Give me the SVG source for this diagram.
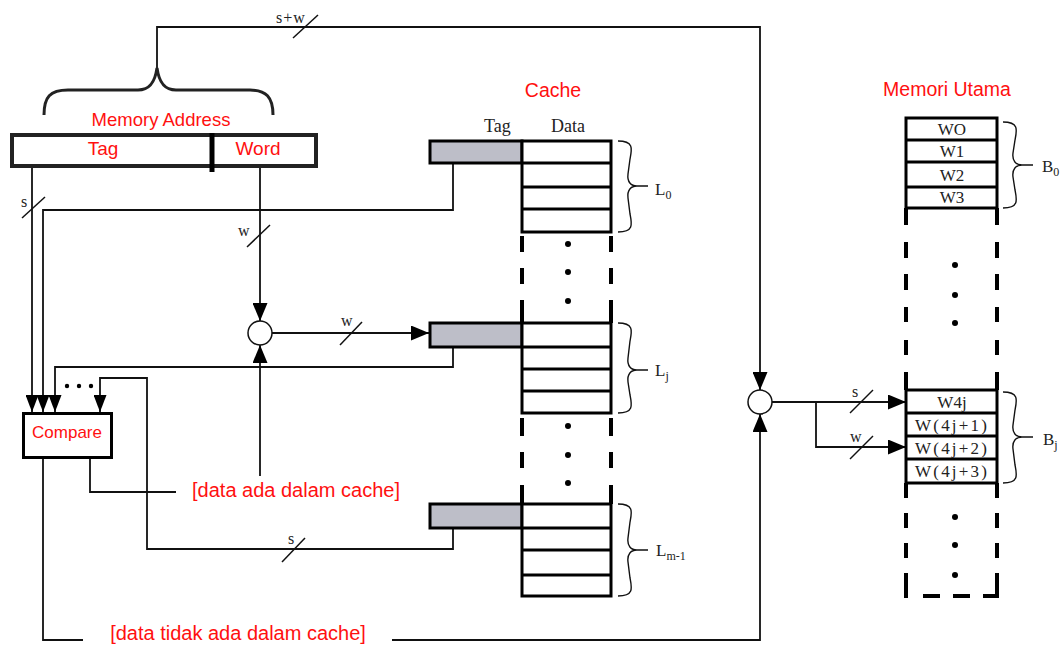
<svg xmlns="http://www.w3.org/2000/svg" width="1062" height="645" viewBox="0 0 1062 645">
<defs>
<marker id="a" markerUnits="userSpaceOnUse" viewBox="0 0 18 15" markerWidth="18" markerHeight="15" refX="18" refY="7.5" orient="auto"><path d="M0,0 L18,7.5 L0,15 z" fill="#000"/></marker>
<marker id="as" markerUnits="userSpaceOnUse" viewBox="0 0 17 13" markerWidth="17" markerHeight="13" refX="17" refY="6.5" orient="auto"><path d="M0,0 L17,6.5 L0,13 z" fill="#000"/></marker>
</defs>
<style>
.red{font-family:"Liberation Sans",Arial,sans-serif;fill:#ff1010;text-anchor:middle}
.ser{font-family:"Liberation Serif","Times New Roman",serif;fill:#222}
.ln{fill:none;stroke:#111;stroke-width:1.8}
.sl{stroke:#111;stroke-width:1.5}
.box{fill:#fff;stroke:#000;stroke-width:3}
.tag{fill:#bdbec8;stroke:#000;stroke-width:3}
.row{stroke:#000;stroke-width:3}
.dash{fill:none;stroke:#000;stroke-width:4}
.br{fill:none;stroke:#111;stroke-width:1.4}
.dot{fill:#000}
</style>
<rect width="1062" height="645" fill="#fff"/>

<g id="connectors">
<path class="ln" d="M157,68 V27 H760 V390" marker-end="url(#a)"/>
<path class="ln" d="M32,168 V412" marker-end="url(#as)"/>
<path class="ln" d="M453,163 V210 H43 V412" marker-end="url(#as)"/>
<path class="ln" d="M453,347 V367 H55 V412" marker-end="url(#as)"/>
<path class="ln" d="M453,528 V549 H147 V378 H100 V412" marker-end="url(#as)"/>
<path class="ln" d="M260,168 V321" marker-end="url(#a)"/>
<path class="ln" d="M260,476 V345" marker-end="url(#a)"/>
<path class="ln" d="M272,333 H429" marker-end="url(#a)"/>
<path class="ln" d="M90,459 V492 H176"/>
<path class="ln" d="M43,459 V640 H83"/>
<path class="ln" d="M392,640 H760 V414" marker-end="url(#a)"/>
<path class="ln" d="M772,402 H906" marker-end="url(#a)"/>
<path class="ln" d="M816,402 V447 H906" marker-end="url(#a)"/>
<line class="sl" x1="293" y1="38" x2="318" y2="15"/>
<line class="sl" x1="22" y1="218" x2="45" y2="197"/>
<line class="sl" x1="247" y1="247" x2="270" y2="225"/>
<line class="sl" x1="340" y1="345" x2="362" y2="322"/>
<line class="sl" x1="282" y1="562" x2="305" y2="538"/>
<line class="sl" x1="850" y1="413" x2="873" y2="390"/>
<line class="sl" x1="850" y1="459" x2="873" y2="436"/>
<text class="ser" x="276" y="23" font-size="16" letter-spacing="1">s+w</text>
<text class="ser" x="21" y="207" font-size="16">s</text>
<text class="ser" x="238" y="236" font-size="16">w</text>
<text class="ser" x="341" y="326" font-size="16">w</text>
<text class="ser" x="288" y="544" font-size="16">s</text>
<text class="ser" x="852" y="397" font-size="16">s</text>
<text class="ser" x="850" y="442" font-size="16">w</text>
<circle class="dot" cx="67" cy="386" r="2.2"/>
<circle class="dot" cx="79" cy="386" r="2.2"/>
<circle class="dot" cx="91" cy="386" r="2.2"/>
<text class="red" x="238" y="640" font-size="20">[data tidak ada dalam cache]</text>
<text class="red" x="296" y="497" font-size="20">[data ada dalam cache]</text>
</g>

<g id="memory-address">
<path d="M44,115 C44,97 50,90 68,90 L138,90 C150,90 155,82 157,68 C159,82 164,90 176,90 L250,90 C266,90 273,97 273,115" fill="none" stroke="#222" stroke-width="3"/>
<text class="red" x="161" y="126" font-size="18.5">Memory Address</text>
<rect x="12" y="135" width="304" height="31" fill="#fff" stroke="#222" stroke-width="4"/>
<line x1="212" y1="133" x2="212" y2="172" stroke="#000" stroke-width="5"/>
<text class="red" x="103" y="155" font-size="19">Tag</text>
<text class="red" x="258" y="155" font-size="19">Word</text>
</g>

<g id="compare">
<rect x="23.5" y="413.5" width="88" height="44" class="box"/>
<text class="red" x="67" y="438" font-size="17">Compare</text>
</g>

<g id="selector-1">
<circle cx="260" cy="333" r="12" fill="#fff" stroke="#111" stroke-width="1.5"/>
</g>
<g id="selector-2">
<circle cx="760" cy="402" r="12" fill="#fff" stroke="#111" stroke-width="1.5"/>
</g>

<g id="cache">
<text class="red" x="553" y="97" font-size="19.5">Cache</text>
<text class="ser" x="484" y="132" font-size="18">Tag</text>
<text class="ser" x="551" y="132" font-size="18">Data</text>
<rect class="tag" x="430" y="141" width="92" height="22"/>
<rect class="box" x="522" y="141" width="89" height="91"/>
<line class="row" x1="522" y1="163" x2="611" y2="163"/>
<line class="row" x1="522" y1="187" x2="611" y2="187"/>
<line class="row" x1="522" y1="209" x2="611" y2="209"/>
<path class="br" d="M618,141 C634,141 632,149 630,159 L628,174 C627,182 631,186 637,186 C631,186 627,190 628,198 L630,214 C632,224 634,232 618,232 M637,186 H648"/>
<text class="ser" x="655" y="195" font-size="17">L<tspan font-size="12" dy="4">0</tspan></text>
<rect class="tag" x="430" y="323" width="92" height="24"/>
<rect class="box" x="522" y="323" width="89" height="90"/>
<line class="row" x1="522" y1="347" x2="611" y2="347"/>
<line class="row" x1="522" y1="369" x2="611" y2="369"/>
<line class="row" x1="522" y1="391" x2="611" y2="391"/>
<path class="br" d="M618,323 C634,323 632,331 630,341 L628,358 C627,366 631,370 637,370 C631,370 627,374 628,382 L630,395 C632,405 634,413 618,413 M637,370 H648"/>
<text class="ser" x="655" y="376" font-size="17">L<tspan font-size="12" dy="4">j</tspan></text>
<rect class="tag" x="430" y="504" width="92" height="24"/>
<rect class="box" x="522" y="504" width="89" height="92"/>
<line class="row" x1="522" y1="528" x2="611" y2="528"/>
<line class="row" x1="522" y1="550" x2="611" y2="550"/>
<line class="row" x1="522" y1="575" x2="611" y2="575"/>
<path class="br" d="M618,504 C634,504 632,512 630,522 L628,538 C627,546 631,550 637,550 C631,550 627,554 628,562 L630,578 C632,588 634,596 618,596 M637,550 H648"/>
<text class="ser" x="656" y="556" font-size="17">L<tspan font-size="12" dy="4">m-1</tspan></text>
<path class="dash" d="M522,236 V252 M522,268 V284 M522,300 V323 M611,236 V252 M611,268 V284 M611,300 V323 M522,418 V436 M522,452 V468 M522,485 V504 M611,418 V436 M611,452 V468 M611,485 V504"/>
<circle class="dot" cx="568" cy="244" r="3"/>
<circle class="dot" cx="568" cy="272" r="3"/>
<circle class="dot" cx="568" cy="301" r="3"/>
<circle class="dot" cx="568" cy="426" r="3"/>
<circle class="dot" cx="568" cy="455" r="3"/>
<circle class="dot" cx="568" cy="483" r="3"/>
</g>

<g id="main-memory">
<text class="red" x="947" y="96" font-size="19.5">Memori Utama</text>
<rect class="box" x="906" y="118" width="91" height="90"/>
<line class="row" x1="906" y1="140" x2="997" y2="140"/>
<line class="row" x1="906" y1="162" x2="997" y2="162"/>
<line class="row" x1="906" y1="187" x2="997" y2="187"/>
<text class="ser" x="952" y="135" font-size="17" text-anchor="middle">WO</text>
<text class="ser" x="952" y="157" font-size="17" text-anchor="middle">W1</text>
<text class="ser" x="952" y="181" font-size="17" text-anchor="middle">W2</text>
<text class="ser" x="952" y="203" font-size="17" text-anchor="middle">W3</text>
<path class="br" d="M1003,122 C1019,122 1017,130 1015,140 L1013,153 C1012,161 1016,165 1022,165 C1016,165 1012,169 1013,177 L1015,190 C1017,200 1019,208 1003,208 M1022,165 H1033"/>
<text class="ser" x="1042" y="172" font-size="17">B<tspan font-size="12" dy="4">0</tspan></text>
<rect class="box" x="906" y="390" width="91" height="93"/>
<line class="row" x1="906" y1="413" x2="997" y2="413"/>
<line class="row" x1="906" y1="436" x2="997" y2="436"/>
<line class="row" x1="906" y1="459" x2="997" y2="459"/>
<text class="ser" x="952" y="408" font-size="17" text-anchor="middle">W4j</text>
<text class="ser" x="915" y="431" font-size="17" textLength="72" lengthAdjust="spacing">W(4j+1)</text>
<text class="ser" x="915" y="454" font-size="17" textLength="72" lengthAdjust="spacing">W(4j+2)</text>
<text class="ser" x="915" y="477" font-size="17" textLength="72" lengthAdjust="spacing">W(4j+3)</text>
<path class="br" d="M1003,392 C1019,392 1017,400 1015,410 L1013,425 C1012,433 1016,437 1022,437 C1016,437 1012,441 1013,449 L1015,465 C1017,475 1019,483 1003,483 M1022,437 H1033"/>
<text class="ser" x="1043" y="445" font-size="17">B<tspan font-size="12" dy="4">j</tspan></text>
<path class="dash" d="M906,208 V225 M906,242 V258 M906,274 V290 M906,307 V322 M906,340 V355 M906,372 V390 M997,208 V225 M997,242 V258 M997,274 V290 M997,307 V322 M997,340 V355 M997,372 V390 M906,483 V498 M906,513 V528 M906,543 V558 M906,573 V598 M997,483 V498 M997,513 V528 M997,543 V558 M997,573 V598 M923,596 H940 M953,596 H970 M983,596 H999"/>
<circle class="dot" cx="955" cy="265" r="3"/>
<circle class="dot" cx="955" cy="295" r="3"/>
<circle class="dot" cx="955" cy="323" r="3"/>
<circle class="dot" cx="955" cy="517" r="3"/>
<circle class="dot" cx="955" cy="545" r="3"/>
<circle class="dot" cx="955" cy="575" r="3"/>
</g>
</svg>
